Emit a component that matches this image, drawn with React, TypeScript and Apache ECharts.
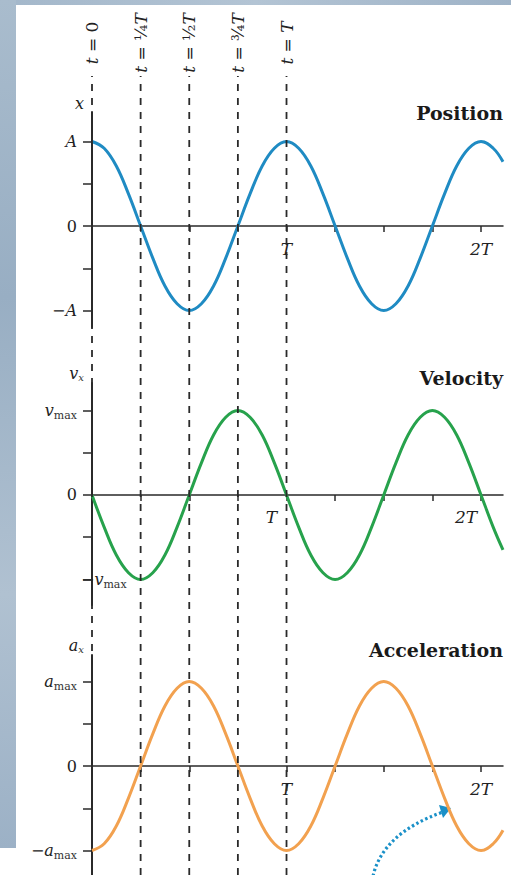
import React, { useEffect, useRef } from "react";
import * as echarts from "echarts";

// Time samples, in periods T (sixteenth-period steps; the last one sits at the right edge).
const tSamples = [
  0, 0.0625, 0.125, 0.1875, 0.25, 0.3125, 0.375, 0.4375, 0.5, 0.5625, 0.625, 0.6875, 0.75, 0.8125, 0.875, 0.9375,
  1, 1.0625, 1.125, 1.1875, 1.25, 1.3125, 1.375, 1.4375, 1.5, 1.5625, 1.625, 1.6875, 1.75, 1.8125, 1.875, 1.9375,
  2, 2.0625, 2.113,
];
// Position x(t) in units of A
const positionX = [
  1, 0.92, 0.71, 0.38, 0, -0.38, -0.71, -0.92, -1, -0.92, -0.71, -0.38, 0, 0.38, 0.71, 0.92,
  1, 0.92, 0.71, 0.38, 0, -0.38, -0.71, -0.92, -1, -0.92, -0.71, -0.38, 0, 0.38, 0.71, 0.92,
  1, 0.92, 0.76,
];
// Velocity v_x(t) in units of v_max
const velocityV = [
  0, -0.38, -0.71, -0.92, -1, -0.92, -0.71, -0.38, 0, 0.38, 0.71, 0.92, 1, 0.92, 0.71, 0.38,
  0, -0.38, -0.71, -0.92, -1, -0.92, -0.71, -0.38, 0, 0.38, 0.71, 0.92, 1, 0.92, 0.71, 0.38,
  0, -0.38, -0.65,
];
// Acceleration a_x(t) in units of a_max
const accelerationA = [
  -1, -0.92, -0.71, -0.38, 0, 0.38, 0.71, 0.92, 1, 0.92, 0.71, 0.38, 0, -0.38, -0.71, -0.92,
  -1, -0.92, -0.71, -0.38, 0, 0.38, 0.71, 0.92, 1, 0.92, 0.71, 0.38, 0, -0.38, -0.71, -0.92,
  -1, -0.92, -0.76,
];

// Reference instants drawn as dashed verticals, with their rotated captions
const quarterMarks = [0, 0.25, 0.5, 0.75, 1];
const quarterLabels = ["{i|t} = 0", "{i|t} = ¼{i|T}", "{i|t} = ½{i|T}", "{i|t} = ¾{i|T}", "{i|t} = {i|T}"];

// Time axis ticks and labels
const xTickValues = [0.25, 0.5, 0.75, 1, 1.25, 1.5, 1.75, 2];
const xLabelValues = [1, 2];
const xLabelTexts = ["T", "2T"];

// Vertical axis ticks and labelled levels
const yTickValues = [-1, -0.5, 0, 0.5, 1];
const yLabelValues = [-1, 0, 1];
const positionYLabels = ["{n|−}{i|A}", "{n|0}", "{i|A}"];
const velocityYLabels = ["", "{n|0}", "{i|v}{s|max}"];
const accelerationYLabels = ["{n|−}{i|a}{s|max}", "{n|0}", "{i|a}{s|max}"];

const panelTitles = ["Position", "Velocity", "Acceleration"];
const axisNames = ["{i|x}", "{i|v}{s|x}", "{i|a}{s|x}"];

const serif = "'DejaVu Serif', 'Liberation Serif', serif";
const ink = "#222";
const colors = ["#1f8bc3", "#27a24c", "#f2a14f"];

const rich = {
  i: { fontFamily: serif, fontStyle: "italic", fontSize: 16, color: ink },
  n: { fontFamily: serif, fontSize: 16, color: ink },
  s: { fontFamily: serif, fontSize: 11, color: "#333", padding: [10, 0, 0, 0] },
};

const X_MAX = 2.113;

// Panels: grid placement and vertical range (1 unit = one amplitude)
const panels = [
  { top: 112, height: 215, min: -1.195, max: 1.349, labels: positionYLabels, values: positionX },
  { top: 383, height: 222, min: -1.302, max: 1.325, labels: velocityYLabels, values: velocityV },
  { top: 655, height: 220, min: -1.29, max: 1.314, labels: accelerationYLabels, values: accelerationA },
];

const labelShift = [0, 30, 0];

export default function App() {
  const ref = useRef<HTMLDivElement>(null);

  useEffect(() => {
    if (!ref.current) return;
    const chart = echarts.init(ref.current, null, { renderer: "svg" });

    const grids: any[] = panels.map((p) => ({ left: 92, right: 8, top: p.top, height: p.height }));
    grids.push({ left: 92, right: 8, top: 76, bottom: 0 });

    const xAxes: any[] = panels.map((p, i) => ({
      type: "value",
      gridIndex: i,
      min: 0,
      max: X_MAX,
      // lift the time axis from the grid's bottom edge up to the zero level
      offset: -(p.height * (0 - p.min)) / (p.max - p.min),
      axisLine: { onZero: false, lineStyle: { color: "#2a2a2a", width: 1.5 } },
      axisTick: { customValues: xTickValues, length: 6, lineStyle: { color: "#2a2a2a", width: 1.5 } },
      axisLabel: {
        customValues: xLabelValues,
        margin: 14,
        formatter: (v: number) => "{i|" + xLabelTexts[xLabelValues.indexOf(Math.round(v))] + "}",
        rich: { i: { ...rich.i, fontSize: 17, padding: [0, labelShift[i], 0, 0] } },
      },
      splitLine: { show: false },
    }));
    xAxes.push({ type: "value", gridIndex: 3, min: 0, max: X_MAX, show: false });

    const yAxes: any[] = panels.map((p, i) => ({
      type: "value",
      gridIndex: i,
      min: p.min,
      max: p.max,
      axisLine: { show: true, onZero: false, lineStyle: { color: "#2a2a2a", width: 2 } },
      axisTick: { show: true, customValues: yTickValues, length: 9, lineStyle: { color: "#2a2a2a", width: 1.5 } },
      axisLabel: {
        customValues: yLabelValues,
        margin: 15,
        formatter: (v: number) => p.labels[yLabelValues.indexOf(Math.round(v))] ?? "",
        rich,
      },
      splitLine: { show: false },
    }));
    yAxes.push({ type: "value", gridIndex: 3, min: 0, max: 1, show: false });

    const series: any[] = panels.map((p, i) => ({
      type: "line",
      xAxisIndex: i,
      yAxisIndex: i,
      data: tSamples.map((t, k) => [t, p.values[k]]),
      smooth: 0.4,
      showSymbol: false,
      lineStyle: { color: colors[i], width: 3 },
      z: 3,
    }));
    quarterMarks.forEach((q) => {
      series.push({
        type: "line",
        xAxisIndex: 3,
        yAxisIndex: 3,
        data: [[q, 0], [q, 1]],
        showSymbol: false,
        lineStyle: { color: "#2a2a2a", width: 1.8, type: [7, 7] },
        z: 4,
      });
    });

    chart.setOption({
      animation: false,
      backgroundColor: "#ffffff",
      grid: grids,
      xAxis: xAxes,
      yAxis: yAxes,
      series,
    });

    const px = (g: number, p: number[]) => chart.convertToPixel({ gridIndex: g } as any, p) as unknown as number[];

    const graphic: any[] = [
      {
        type: "rect",
        z: -10,
        shape: { x: 0, y: 0, width: 511, height: 5 },
        style: { fill: new echarts.graphic.LinearGradient(0, 0, 1, 0, [
          { offset: 0, color: "#a3b7ca" }, { offset: 0.5, color: "#b3c4d4" }, { offset: 1, color: "#9fb3c7" },
        ]) },
      },
      {
        type: "rect",
        z: -10,
        shape: { x: 0, y: 0, width: 16, height: 848 },
        style: { fill: new echarts.graphic.LinearGradient(0, 0, 0, 1, [
          { offset: 0, color: "#a9bccd" }, { offset: 0.35, color: "#98aec3" },
          { offset: 0.7, color: "#b0c1d1" }, { offset: 1, color: "#9cb1c6" },
        ]) },
      },
    ];

    // Rotated captions above the dashed verticals
    quarterMarks.forEach((q, k) => {
      const [x] = px(3, [q, 1]);
      graphic.push({
        type: "text",
        x: x,
        y: 43,
        rotation: Math.PI / 2,
        style: {
          text: quarterLabels[k],
          rich: {
            i: { fontFamily: serif, fontStyle: "italic", fontSize: 17, fill: ink },
          },
          fontFamily: serif,
          fontSize: 17,
          fill: ink,
          align: "center",
          verticalAlign: "middle",
        },
      });
    });

    panels.forEach((p, i) => {
      const [ax, top] = px(i, [0, p.max]);
      const [right] = px(i, [X_MAX, 0]);
      // axis name
      graphic.push({
        type: "text",
        x: ax - 8,
        y: top - 1,
        style: {
          text: axisNames[i],
          rich: {
            i: { fontFamily: serif, fontStyle: "italic", fontSize: 16, fill: ink },
            s: { fontFamily: serif, fontStyle: "italic", fontSize: 10, fill: "#333", padding: [8, 0, 0, 0] },
          },
          align: "right",
          verticalAlign: "bottom",
        },
      });
      // panel title
      graphic.push({
        type: "text",
        x: right,
        y: top - 5 + (i === 0 ? 6 : 0),
        style: {
          text: panelTitles[i],
          fontFamily: serif,
          fontWeight: "bold",
          fontSize: 19,
          fill: "#1a1a1a",
          align: "right",
          verticalAlign: "middle",
        },
      });
    });

    // −v_max label, set against the right side of the velocity axis
    const [vx, vy] = px(1, [0, -1]);
    graphic.push({
      type: "text",
      x: vx - 11,
      y: vy,
      z: 10,
      style: {
        text: "{n|−}{i|v}{s|max}",
        rich: {
          n: { fontFamily: serif, fontSize: 16, fill: ink },
          i: { fontFamily: serif, fontStyle: "italic", fontSize: 16, fill: ink },
          s: { fontFamily: serif, fontSize: 11, fill: "#333", padding: [10, 0, 0, 0] },
        },
        align: "left",
        verticalAlign: "middle",
      },
    });

    // dotted pointer arrow at the bottom
    graphic.push({
      type: "bezierCurve",
      shape: { x1: 373, y1: 876, cpx1: 383, cpy1: 833, x2: 443, y2: 812 },
      style: { stroke: "#1a90c8", lineWidth: 3.2, lineDash: [2.5, 2.5], fill: null },
    });
    graphic.push({
      type: "polygon",
      shape: { points: [[439, 805], [451, 808], [443, 818]] },
      style: { fill: "#1a90c8" },
    });

    chart.setOption({ graphic });

    return () => chart.dispose();
  }, []);

  return <div ref={ref} style={{ position: "fixed", left: 0, top: 0, width: 511, height: 875 }} />;
}
